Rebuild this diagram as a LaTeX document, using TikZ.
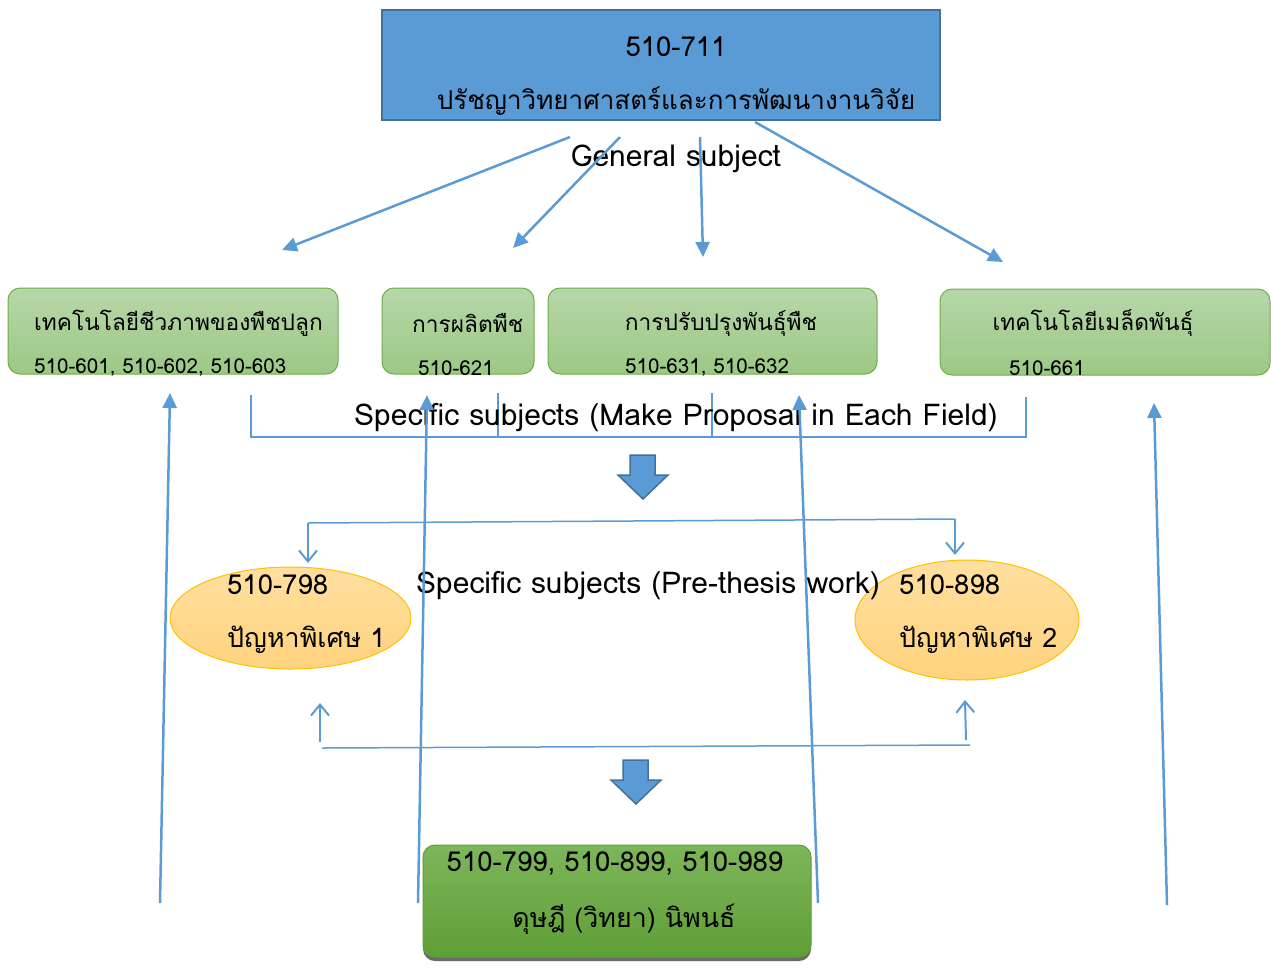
\documentclass[tikz,border=0pt]{standalone}
\usepackage{fontspec}
\setmainfont[Script=Thai]{Loma}
\usetikzlibrary{arrows.meta,shadows,shapes.geometric}
\definecolor{oblue}{HTML}{5B9BD5}
\definecolor{dblue}{HTML}{41719C}
\definecolor{lgtop}{HTML}{B7D7A9}
\definecolor{lgbot}{HTML}{9CC885}
\definecolor{gborder}{HTML}{70AD47}
\definecolor{dgtop}{HTML}{7DB65B}
\definecolor{dgbot}{HTML}{5F9E36}
\definecolor{otop}{HTML}{FFDFA0}
\definecolor{obot}{HTML}{FFD37E}
\definecolor{oborder}{HTML}{FFC000}
\tikzset{
  toptxt/.style={font=\fontsize{26}{31}\selectfont, inner sep=0pt},
  numtxt/.style={font=\fontsize{27.5}{32}\selectfont, inner sep=0pt},
  engtxt/.style={font=\fontsize{30}{35}\selectfont, inner sep=0pt},
  fthai/.style={font=\fontsize{22.7}{27}\selectfont, inner sep=0pt},
  fnum/.style={font=\fontsize{20.6}{25}\selectfont, inner sep=0pt},
  ethai/.style={font=\fontsize{26.8}{31}\selectfont, inner sep=0pt},
  topbox/.style={draw=dblue, line width=2pt, fill=oblue, inner sep=0pt},
  fieldbox/.style={draw=gborder, line width=1pt, rounded corners=12pt, top color=lgtop, bottom color=lgbot, inner sep=0pt},
  thesisbox/.style={draw=dgbot, line width=1pt, rounded corners=12pt, top color=dgtop, bottom color=dgbot, inner sep=0pt,
     drop shadow={shadow xshift=0pt, shadow yshift=-4pt, fill=black!65, opacity=0.9}},
  probell/.style={ellipse, draw=oborder, line width=1pt, top color=otop, bottom color=obot, inner sep=0pt},
  conn/.style={draw=oblue, line width=2.5pt, -{Triangle[length=15pt,width=14pt]}},
  thin/.style={draw=oblue, line width=1.5pt},
  barb/.style={draw=oblue, line width=2pt, -{Straight Barb[length=11pt,width=18pt]}},
  blockarrow/.style={draw=dblue, line width=1.5pt, fill=oblue, line join=miter},
}
\begin{document}
\begin{tikzpicture}[x=1pt,y=-1pt]
\useasboundingbox (0,0) rectangle (1271,978);

% top box
\node[topbox, minimum width=558pt, minimum height=110pt] (top) at (661,65) {};
\node[numtxt] (topnum) at (676,47) {510-711};
\node[toptxt] (topthai) at (676,101) {ปรัชญาวิทยาศาสตร์และการพัฒนางานวิจัย};
\node[engtxt] (general) at (676,159) {General subject};

% field boxes
\node[fieldbox, minimum width=330pt, minimum height=86pt] (f1) at (173,331) {};
\node[fieldbox, minimum width=152pt, minimum height=86pt] (f2) at (458,331) {};
\node[fieldbox, minimum width=329pt, minimum height=86pt] (f3) at (712.5,331) {};
\node[fieldbox, minimum width=330pt, minimum height=86pt] (f4) at (1105,332) {};
\node[fthai, anchor=west] (f1t) at (34,323) {เทคโนโลยีชีวภาพของพืชปลูก};
\node[fnum, anchor=west] (f1n) at (34,368) {510-601, 510-602, 510-603};
\node[fthai, anchor=west] (f2t) at (412,323) {การผลิตพืช};
\node[fnum, anchor=west] (f2n) at (418,368) {510-621};
\node[fthai] (f3t) at (721,323) {การปรับปรุงพันธุ์พืช};
\node[fnum, anchor=west] (f3n) at (625,368) {510-631, 510-632};
\node[fthai] (f4t) at (1093,323) {เทคโนโลยีเมล็ดพันธุ์};
\node[fnum, anchor=west] (f4n) at (1009,368) {510-661};

% arrows from top
\coordinate (s1) at (570,137);
\coordinate (s2) at (620,137);
\coordinate (s3) at (700,137);
\coordinate (s4) at (755,122);
\coordinate (e1) at (282,250);
\coordinate (e2) at (513,248);
\coordinate (e3) at (703,257);
\coordinate (e4) at (1003,262);
\draw[conn] (s1) -- (e1);
\draw[conn] (s2) -- (e2);
\draw[conn] (s3) -- (e3);
\draw[conn] (s4) -- (e4);

% bracket
\coordinate (b1) at (251,395);
\coordinate (b2) at (251,437);
\coordinate (b3) at (1026,437);
\coordinate (b4) at (1026,397);
\coordinate (b5) at (498,393);
\coordinate (b6) at (498,437);
\coordinate (b7) at (712,393);
\coordinate (b8) at (712,437);
\draw[thin] (b1) -- (b2) -- (b3) -- (b4);
\draw[thin] (b5) -- (b6);
\draw[thin] (b7) -- (b8);
\node[engtxt] (spec1) at (676,418) {Specific subjects (Make Proposal in Each Field)};

% block arrow 1
\draw[blockarrow] (630,455) -- (655,455) -- (655,475) -- (668,475) -- (643,499) -- (618,475) -- (630,475) -- cycle;

% distribution to ellipses
\node[probell, minimum width=241pt, minimum height=102pt] (p1) at (290.5,618) {};
\node[probell, minimum width=224pt, minimum height=120pt] (p2) at (967,620) {};
\node[numtxt, anchor=west] (p1n) at (227,585) {510-798};
\node[ethai, anchor=west] (p1t) at (227,640) {ปัญหาพิเศษ 1};
\node[numtxt, anchor=west] (p2n) at (899,585) {510-898};
\node[ethai, anchor=west] (p2t) at (899,640) {ปัญหาพิเศษ 2};
\node[engtxt] (spec2) at (648,586) {Specific subjects (Pre-thesis work)};
\coordinate (d1) at (308,523);
\coordinate (d2) at (955,519);
\coordinate (d1e) at (308,563);
\coordinate (d2e) at (955,555);
\draw[barb] (d1) -- (d1e);
\draw[barb] (d2) -- (d2e);
\draw[thin] (d1) -- (d2);

% lower distribution
\coordinate (u1) at (322,748);
\coordinate (u2) at (970,745);
\coordinate (u1b) at (320,742);
\coordinate (u2b) at (966,740);
\coordinate (u1e) at (320,703);
\coordinate (u2e) at (965,700);
\draw[thin] (u1) -- (u2);
\draw[barb] (u1b) -- (u1e);
\draw[barb] (u2b) -- (u2e);

% block arrow 2
\draw[blockarrow] (623,760) -- (648,760) -- (648,780) -- (661,780) -- (636,804) -- (611,780) -- (623,780) -- cycle;

% thesis box
\node[thesisbox, minimum width=388pt, minimum height=112pt] (th) at (617,901) {};
\node[numtxt] (thn) at (615,864) {510-799, 510-899, 510-989};
\node[ethai] (tht) at (624,919) {ดุษฎี (วิทยา) นิพนธ์};

% long arrows up
\coordinate (l1) at (160,903);
\coordinate (l2) at (418,903);
\coordinate (l3) at (818,903);
\coordinate (l4) at (1167,905);
\coordinate (k1) at (170,393);
\coordinate (k2) at (427,395);
\coordinate (k3) at (799,395);
\coordinate (k4) at (1154,403);
\draw[conn] (l1) -- (k1);
\draw[conn] (l2) -- (k2);
\draw[conn] (l3) -- (k3);
\draw[conn] (l4) -- (k4);
\end{tikzpicture}
\end{document}
